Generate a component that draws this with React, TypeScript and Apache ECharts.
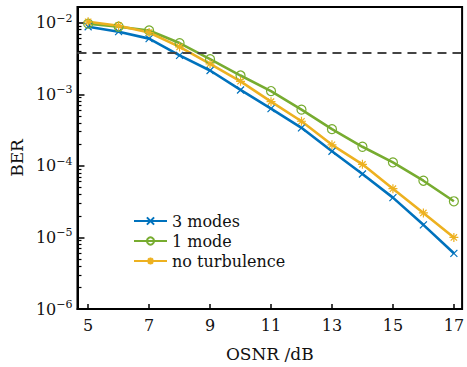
import React, { useEffect, useRef } from "react";
import * as echarts from "echarts";

const osnr = [5, 6, 7, 8, 9, 10, 11, 12, 13, 14, 15, 16, 17];
const berThreeModes = [8.8e-3, 7.5e-3, 6.0e-3, 3.5e-3, 2.15e-3, 1.15e-3, 6.3e-4, 3.4e-4, 1.6e-4, 7.7e-5, 3.6e-5, 1.5e-5, 6.0e-6];
const berOneMode = [9.7e-3, 8.8e-3, 7.8e-3, 5.2e-3, 3.1e-3, 1.83e-3, 1.11e-3, 6.1e-4, 3.26e-4, 1.85e-4, 1.12e-4, 6.2e-5, 3.2e-5];
const berNoTurbulence = [1.03e-2, 9.1e-3, 7.3e-3, 4.6e-3, 2.67e-3, 1.52e-3, 7.9e-4, 4.2e-4, 1.97e-4, 1.05e-4, 4.8e-5, 2.2e-5, 1.0e-5];
const fecThreshold = 3.8e-3;
const xTicks = [5, 7, 9, 11, 13, 15, 17];
const yExponents = [-6, -5, -4, -3, -2];

const FONT = "DejaVu Serif";
const BLUE = "#0072BD";
const GREEN = "#77AC30";
const ORANGE = "#EDB120";

export default function App() {
  const ref = useRef<HTMLDivElement>(null);
  useEffect(() => {
    if (!ref.current) return;
    const chart = echarts.init(ref.current, null, { renderer: "svg" });
    const yMin = -6;
    const yMax = -1.78;
    const minorVals: number[] = [];
    for (let e = -6; e <= -2; e++) {
      for (let k = 2; k <= 9; k++) {
        const v = Math.log10(k) + e;
        if (v < yMax) minorVals.push(v);
      }
    }
    const toPts = (arr: number[]) => arr.map((b, i) => [osnr[i], Math.log10(b)]);
    const mk = (name: string, data: number[], color: string, symbol: string, size: number, fillSym: boolean) => ({
      name,
      type: "line",
      data: toPts(data),
      symbol,
      symbolSize: size,
      lineStyle: { color, width: 2.6 },
      itemStyle: { color: fillSym ? color : "rgba(0,0,0,0)", borderColor: color, borderWidth: 1.2 },
      z: 3,
    });
    const supMap: Record<string, string> = { "-": "−" };
    chart.setOption({
      animation: false,
      grid: { left: 75, right: 2, top: 7, bottom: 50, show: true, borderColor: "#000", borderWidth: 2, backgroundColor: "transparent" },
      legend: {
        left: 133,
        top: 213,
        padding: 0,
        orient: "vertical",
        itemWidth: 33,
        itemHeight: 9,
        itemGap: 4,
        textStyle: { fontFamily: FONT, fontSize: 16, color: "#111", lineHeight: 16 },
        data: ["3 modes", "1 mode", "no turbulence"],
      },
      xAxis: {
        type: "value",
        min: 4.65,
        max: 17.27,
        name: "OSNR /dB",
        nameLocation: "middle",
        nameGap: 36,
        nameTextStyle: { fontFamily: FONT, fontSize: 17, color: "#111" },
        axisLine: { show: true, lineStyle: { color: "#000", width: 2 } },
        axisTick: { show: true, inside: true, length: 5, customValues: xTicks, lineStyle: { color: "#000", width: 1.5 } },
        axisLabel: { customValues: xTicks, fontFamily: FONT, fontSize: 16, color: "#111", margin: 8 },
        splitLine: { show: false },
      },
      yAxis: [
        {
          type: "value",
          min: yMin,
          max: yMax,
          interval: 1,
          name: "BER",
          nameLocation: "middle",
          nameGap: 48,
          nameRotate: 90,
          nameTextStyle: { fontFamily: FONT, fontSize: 17, color: "#111" },
          axisLine: { show: true, lineStyle: { color: "#000", width: 2 } },
          axisTick: { show: true, inside: true, length: 7, customValues: yExponents, lineStyle: { color: "#000", width: 1.5 } },
          axisLabel: {
            customValues: yExponents,
            margin: 5,
            formatter: (v: number) => {
              const s = String(Math.round(v)).split("").map((c) => supMap[c] ?? c).join("");
              return `{b|10}{s|${s}}`;
            },
            rich: {
              b: { fontFamily: FONT, fontSize: 16, color: "#111" },
              s: { fontFamily: FONT, fontSize: 11, color: "#111", padding: [0, 0, 9, 0] },
            },
          },
          splitLine: { show: false },
        },
        {
          type: "value",
          min: yMin,
          max: yMax,
          position: "left",
          axisLine: { show: false },
          axisTick: { show: true, inside: true, length: 4, customValues: minorVals, lineStyle: { color: "#000", width: 1.2 } },
          axisLabel: { show: false },
          splitLine: { show: false },
        },
      ],
      series: [
        {
          ...mk("3 modes", berThreeModes, BLUE, "path://M0,0L10,10M0,10L10,0", 7, true),
          markLine: {
            silent: true,
            symbol: "none",
            label: { show: false },
            lineStyle: { color: "#444", type: [9, 6], width: 2 },
            data: [{ yAxis: Math.log10(fecThreshold) }],
          },
        },
        mk("1 mode", berOneMode, GREEN, "circle", 9, false),
        mk("no turbulence", berNoTurbulence, ORANGE, "path://M5,0L5,10M0,5L10,5M1.5,1.5L8.5,8.5M1.5,8.5L8.5,1.5", 9, true),
      ],
    });
    return () => chart.dispose();
  }, []);
  return <div ref={ref} style={{ position: "fixed", left: 0, top: 0, width: 467, height: 367, background: "#fff" }} />;
}
